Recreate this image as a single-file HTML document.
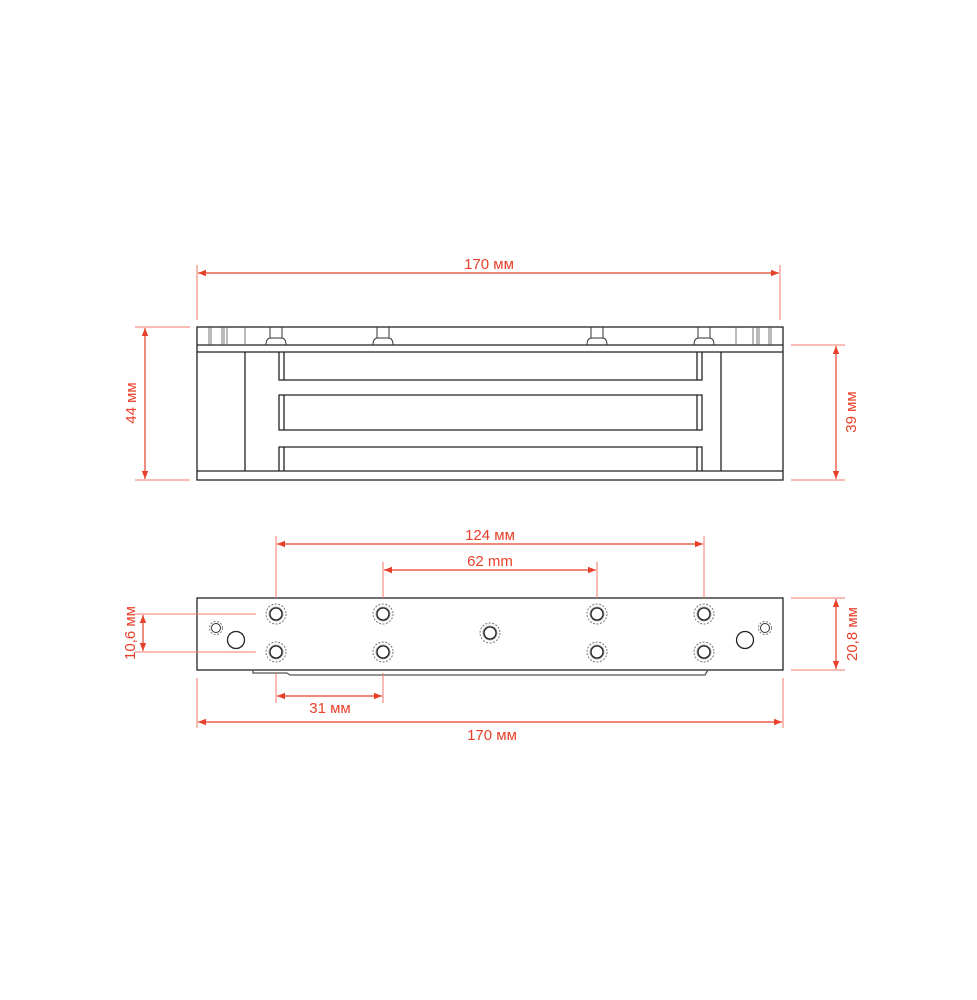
<!DOCTYPE html>
<html><head><meta charset="utf-8"><style>
html,body{margin:0;padding:0;background:#fff;}
svg{display:block;}
text{font-family:"Liberation Sans",sans-serif;font-size:15px;fill:#e8402a;}
</style></head><body>
<svg width="977" height="1000" viewBox="0 0 977 1000" xmlns="http://www.w3.org/2000/svg">
<defs>
<marker id="a" viewBox="0 0 10 10" refX="10" refY="5" markerWidth="8" markerHeight="8" orient="auto-start-reverse" markerUnits="userSpaceOnUse"><path d="M0,1 L10,5 L0,9 Z" fill="#e8402a"/></marker>
<g id="hole"><circle r="10" fill="none" stroke="#777" stroke-width="1" stroke-dasharray="2,1.5"/><circle r="7" fill="none" stroke="#aaa" stroke-width="1"/><circle r="6" fill="none" stroke="#222" stroke-width="1.3"/></g>
<g id="screw" fill="none" stroke="#333" stroke-width="1"><path d="M-6,327 V338 M6,327 V338 M-10,345 Q-10,338 -5,338 H5 Q10,338 10,345"/></g>
</defs>

<!-- TOP VIEW -->
<g fill="none" stroke="#222" stroke-width="1.3">
<rect x="197" y="327" width="586" height="153"/>
<line x1="197" y1="345" x2="783" y2="345"/>
<line x1="197" y1="352" x2="783" y2="352"/>
<line x1="197" y1="471" x2="783" y2="471"/>
<line x1="245" y1="352" x2="245" y2="471"/>
<line x1="721" y1="352" x2="721" y2="471"/>
<path d="M279,352 V380 H702 V352 M284,352 V380 M697,352 V380"/>
<path d="M279,395 H702 V430 H279 Z M284,395 V430 M697,395 V430"/>
<path d="M279,471 V447 H702 V471 M284,447 V471 M697,447 V471"/>
</g>
<g stroke="#555" stroke-width="0.8">
<line x1="209" y1="327" x2="209" y2="345"/><line x1="211" y1="327" x2="211" y2="345"/>
<line x1="222" y1="327" x2="222" y2="345"/><line x1="224" y1="327" x2="224" y2="345"/>
<line x1="227" y1="327" x2="227" y2="345"/><line x1="245" y1="327" x2="245" y2="345"/>
<line x1="736" y1="327" x2="736" y2="345"/><line x1="753" y1="327" x2="753" y2="345"/>
<line x1="757" y1="327" x2="757" y2="345"/><line x1="759" y1="327" x2="759" y2="345"/>
<line x1="769" y1="327" x2="769" y2="345"/><line x1="771" y1="327" x2="771" y2="345"/>
</g>
<use href="#screw" x="276"/><use href="#screw" x="383"/><use href="#screw" x="597"/><use href="#screw" x="704"/>

<!-- top dims -->
<g stroke="#f07a68" stroke-width="1" fill="none">
<line x1="197" y1="265" x2="197" y2="320"/><line x1="780" y1="265" x2="780" y2="320"/>
<line x1="135" y1="327" x2="190" y2="327"/><line x1="135" y1="480" x2="190" y2="480"/>
<line x1="791" y1="345" x2="845" y2="345"/><line x1="791" y1="480" x2="845" y2="480"/>
</g>
<g stroke="#e8402a" stroke-width="1.2">
<line x1="198" y1="273" x2="779" y2="273" marker-start="url(#a)" marker-end="url(#a)"/>
<line x1="145" y1="328" x2="145" y2="479" marker-start="url(#a)" marker-end="url(#a)"/>
<line x1="836" y1="346" x2="836" y2="479" marker-start="url(#a)" marker-end="url(#a)"/>
</g>
<text x="489" y="269" text-anchor="middle">170 мм</text>
<text transform="translate(136,403) rotate(-90)" text-anchor="middle">44 мм</text>
<text transform="translate(856,412) rotate(-90)" text-anchor="middle">39 мм</text>

<!-- BOTTOM VIEW -->
<g fill="none" stroke="#222" stroke-width="1.3">
<rect x="197" y="598" width="586" height="72"/>
<path d="M253,670 V673 H287 L290,675 H705 L708,670" stroke="#555"/>
</g>
<use href="#hole" x="276" y="614"/><use href="#hole" x="383" y="614"/><use href="#hole" x="597" y="614"/><use href="#hole" x="704" y="614"/>
<use href="#hole" x="276" y="652"/><use href="#hole" x="383" y="652"/><use href="#hole" x="597" y="652"/><use href="#hole" x="704" y="652"/>
<use href="#hole" x="490" y="633"/>
<g fill="none">
<circle cx="216" cy="628" r="6.5" stroke="#777" stroke-dasharray="2,1.5"/><circle cx="216" cy="628" r="4.5" stroke="#333"/>
<circle cx="765" cy="628" r="6.5" stroke="#777" stroke-dasharray="2,1.5"/><circle cx="765" cy="628" r="4.5" stroke="#333"/>
<circle cx="236" cy="640" r="8.5" stroke="#222" stroke-width="1.3"/>
<circle cx="745" cy="640" r="8.5" stroke="#222" stroke-width="1.3"/>
</g>

<!-- bottom dims -->
<g stroke="#f07a68" stroke-width="1" fill="none">
<line x1="276" y1="536" x2="276" y2="598"/><line x1="704" y1="536" x2="704" y2="598"/>
<line x1="383" y1="562" x2="383" y2="598"/><line x1="597" y1="562" x2="597" y2="598"/>
<line x1="276" y1="673" x2="276" y2="703"/><line x1="383" y1="673" x2="383" y2="703"/>
<line x1="197" y1="678" x2="197" y2="728"/><line x1="783" y1="678" x2="783" y2="728"/>
<line x1="135" y1="614" x2="256" y2="614"/><line x1="135" y1="652" x2="256" y2="652"/>
<line x1="791" y1="598" x2="845" y2="598"/><line x1="791" y1="670" x2="845" y2="670"/>
</g>
<g stroke="#e8402a" stroke-width="1.2">
<line x1="277" y1="544" x2="703" y2="544" marker-start="url(#a)" marker-end="url(#a)"/>
<line x1="384" y1="570" x2="596" y2="570" marker-start="url(#a)" marker-end="url(#a)"/>
<line x1="277" y1="696" x2="382" y2="696" marker-start="url(#a)" marker-end="url(#a)"/>
<line x1="198" y1="722" x2="782" y2="722" marker-start="url(#a)" marker-end="url(#a)"/>
<line x1="143" y1="615" x2="143" y2="651" marker-start="url(#a)" marker-end="url(#a)"/>
<line x1="836" y1="599" x2="836" y2="669" marker-start="url(#a)" marker-end="url(#a)"/>
</g>
<text x="490" y="540" text-anchor="middle">124 мм</text>
<text x="490" y="566" text-anchor="middle">62 mm</text>
<text x="330" y="713" text-anchor="middle">31 мм</text>
<text x="492" y="740" text-anchor="middle">170 мм</text>
<text transform="translate(135,633) rotate(-90)" text-anchor="middle">10,6 мм</text>
<text transform="translate(857,634) rotate(-90)" text-anchor="middle">20,8 мм</text>
</svg>
</body></html>
